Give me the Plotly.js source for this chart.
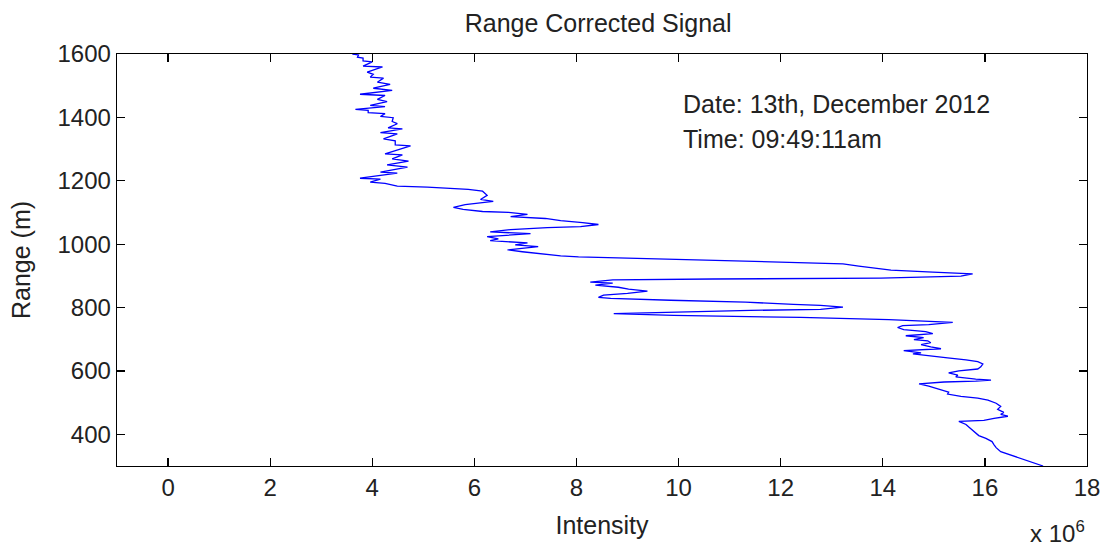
<!DOCTYPE html>
<html>
<head>
<meta charset="utf-8">
<script src="https://cdn.plot.ly/plotly-3.0.1.min.js"></script>
<style>html,body{margin:0;padding:0;background:#fff;}#chart{width:1105px;height:552px;}</style>
</head>
<body>
<div id="chart"></div>
<script>
// Range corrected signal profile (intensity in units of 10^6, range in m)
var rangeM = [
1600,1597,1590,1587,1578,1575,1562,1559,1543,1536,1527,1524,1511,1504,1492,1485,1473,1469,1457,1450,
1438,1434,1425,1422,1415,1412,1403,1399,1387,1380,1367,1364,1352,1348,1332,1326,1313,1310,1285,1282,
1269,1262,1250,1243,1227,1224,1208,1205,1196,1192,1183,1180,1173,1167,1154,1141,1135,1129,1125,1116,
1110,1103,1100,1094,1087,1081,1074,1068,1062,1055,1052,1046,1039,1033,1024,1017,1011,1004,998,992,
982,976,966,963,960,953,944,938,931,925,918,912,906,899,893,890,887,880,877,871,
864,858,852,845,839,832,829,823,817,810,807,801,794,791,785,781,775,769,762,756,
753,746,743,737,730,724,718,711,705,699,695,689,683,676,670,664,657,654,648,641,
635,629,622,613,606,600,594,587,581,574,571,568,565,559,552,546,539,533,527,520,
514,508,498,488,479,469,463,457,450,444,441,431,422,412,406,396,387,377,367,358,
345,336,323,313,304,300
];
var intensity = [
3.61,3.73,3.71,3.82,3.82,4.00,3.82,4.20,3.90,4.02,3.96,4.22,4.10,4.35,4.02,4.39,3.76,4.25,4.10,4.29,
3.96,4.25,3.67,3.92,3.92,4.25,4.16,4.41,4.39,4.49,4.31,4.59,4.16,4.49,4.22,4.45,4.45,4.75,4.25,4.59,
4.39,4.71,4.29,4.69,4.16,4.49,3.76,4.16,3.96,4.25,4.49,5.08,5.88,6.16,6.25,6.12,6.37,6.08,5.82,5.59,
5.78,6.16,6.67,7.04,6.71,7.39,7.69,8.12,8.43,8.08,7.43,6.71,6.31,7.10,6.25,6.47,6.31,7.04,6.80,7.25,
6.65,6.94,7.43,7.69,8.04,9.59,11.86,13.22,13.53,13.86,14.16,14.98,15.76,15.53,13.96,10.67,8.71,8.27,8.71,8.37,
8.82,9.02,9.39,9.00,8.53,8.43,8.67,9.84,11.31,12.25,12.78,13.22,12.78,11.41,9.59,8.73,9.90,12.39,14.12,14.90,
15.37,14.90,14.39,14.29,14.41,14.84,14.98,14.45,14.80,14.61,14.88,14.94,14.75,14.94,15.14,14.41,14.75,14.59,14.88,15.27,
15.63,15.86,15.96,15.92,15.86,15.49,15.29,15.47,15.43,15.82,16.12,15.82,15.20,14.71,14.90,15.04,15.20,15.29,15.27,15.53,
15.86,16.06,16.22,16.31,16.25,16.37,16.31,16.45,16.18,15.98,15.49,15.63,15.69,15.76,15.82,15.88,16.02,16.14,16.18,16.22,
16.31,16.47,16.71,16.90,17.06,17.14
];
var xTicks = [0,2,4,6,8,10,12,14,16,18];
var yTicks = [400,600,800,1000,1200,1400,1600];
var titleText = "Range Corrected Signal";
var dateText = "Date: 13th, December 2012";
var timeText = "Time: 09:49:11am";
var scaleText = "x 10<sup>6</sup>";

var FONT = "Liberation Sans, Arial, Helvetica, sans-serif";

var trace = {
  x: intensity,
  y: rangeM,
  type: "scatter",
  mode: "lines",
  line: {color: "#0000ff", width: 1.3},
  hoverinfo: "skip"
};

var axisCommon = {
  showline: true,
  linecolor: "#000",
  linewidth: 1.3,
  mirror: "ticks",
  ticks: "inside",
  ticklen: 8,
  tickwidth: 1.3,
  tickcolor: "#000",
  showgrid: false,
  zeroline: false,
  tickfont: {family: FONT, size: 24, color: "#222"}
};

var layout = {
  width: 1105,
  height: 552,
  paper_bgcolor: "#fff",
  plot_bgcolor: "#fff",
  showlegend: false,
  margin: {l: 117, r: 18, t: 54, b: 86},
  title: {
    text: titleText,
    font: {family: FONT, size: 25, color: "#222"},
    x: 0.496, xref: "paper",
    y: 1 - 23/552, yref: "container", yanchor: "middle"
  },
  xaxis: Object.assign({}, axisCommon, {
    range: [-1, 18],
    tickvals: xTicks,
    ticktext: xTicks.map(String),
    title: {text: "Intensity", font: {family: FONT, size: 25, color: "#222"}, standoff: 16}
  }),
  yaxis: Object.assign({}, axisCommon, {
    range: [300, 1600],
    tickvals: yTicks,
    ticktext: yTicks.map(String),
    title: {text: "Range (m)", font: {family: FONT, size: 25, color: "#222"}, standoff: 19}
  }),
  annotations: [
    {text: dateText, xref: "paper", yref: "paper", x: (681-117)/970, y: 1 - (104-54)/412,
     xanchor: "left", yanchor: "middle", showarrow: false,
     font: {family: FONT, size: 25, color: "#222"}},
    {text: timeText, xref: "paper", yref: "paper", x: (681-117)/970, y: 1 - (139-54)/412,
     xanchor: "left", yanchor: "middle", showarrow: false,
     font: {family: FONT, size: 25, color: "#222"}},
    {text: scaleText, xref: "paper", yref: "paper", x: 1, y: -(549-466)/412,
     xanchor: "right", yanchor: "bottom", showarrow: false,
     font: {family: FONT, size: 24, color: "#222"}}
  ]
};

Plotly.newPlot("chart", [trace], layout, {displayModeBar: false, staticPlot: true});
</script>
</body>
</html>
